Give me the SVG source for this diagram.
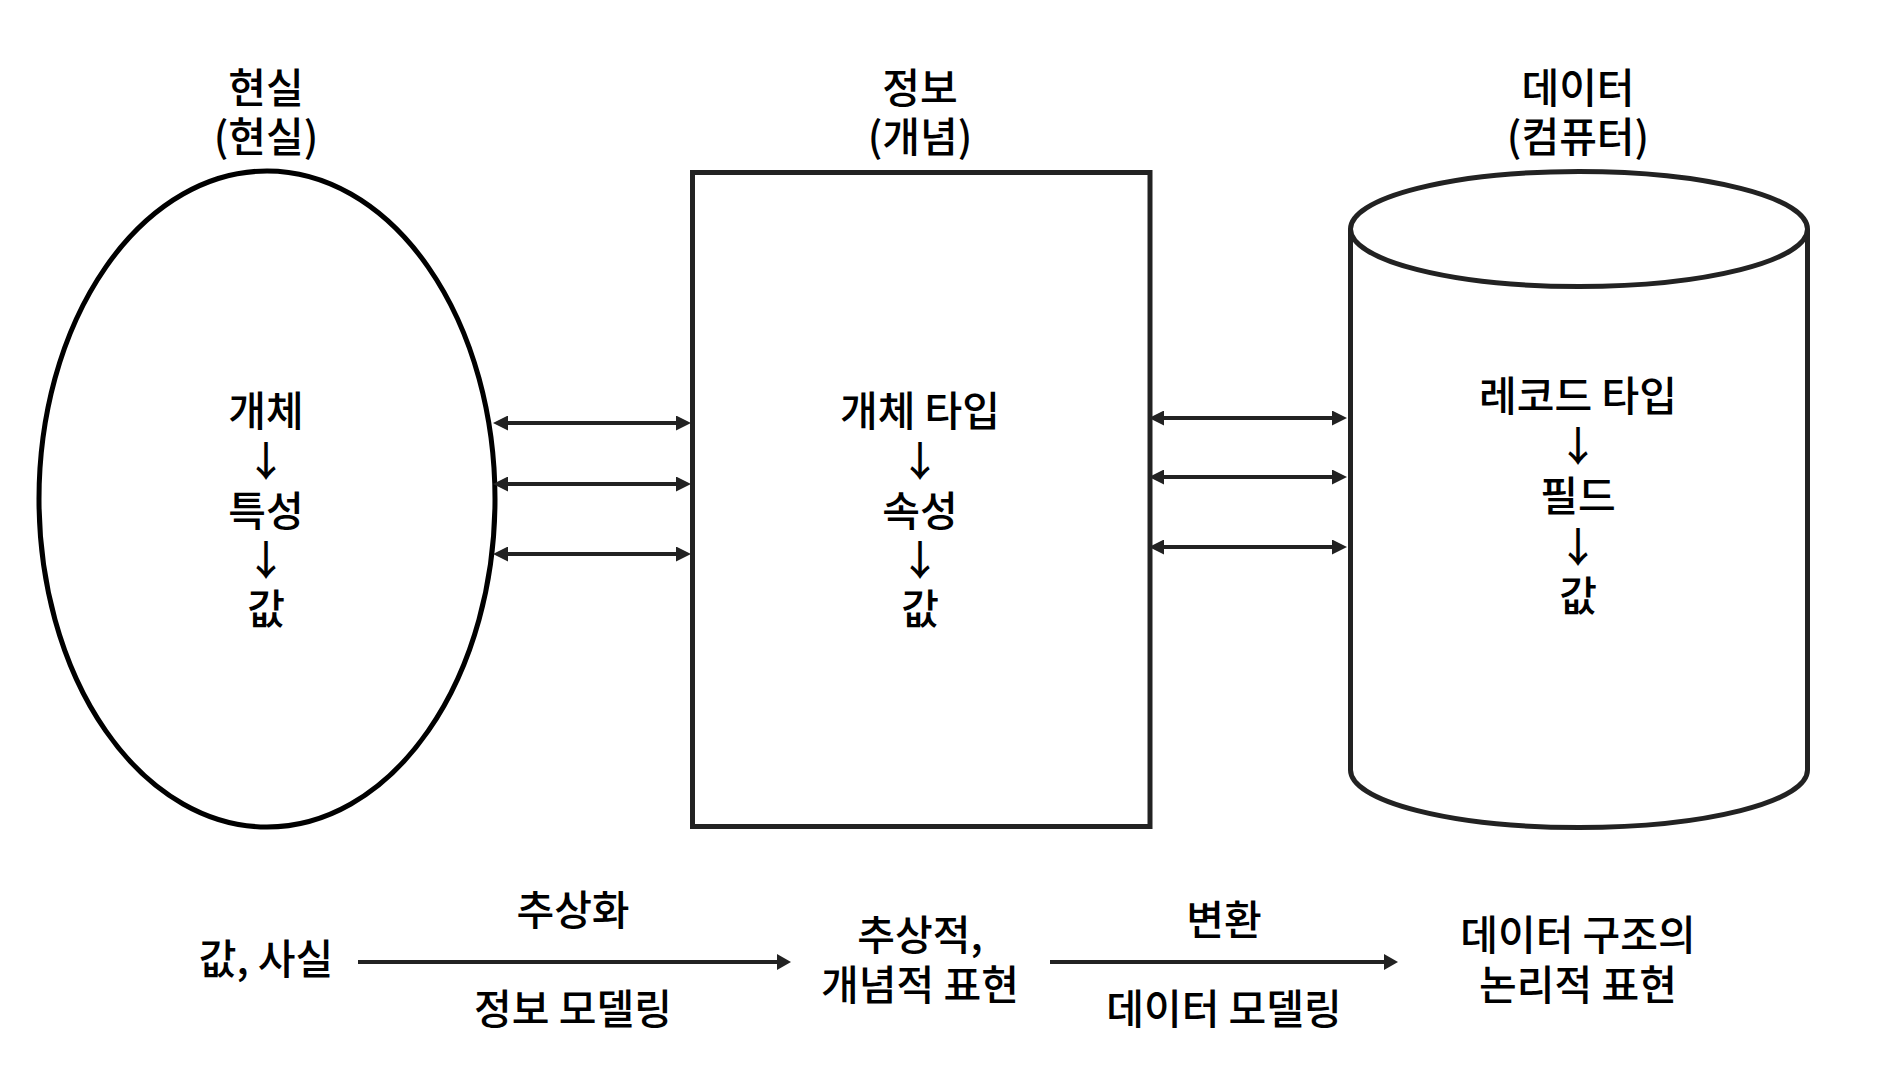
<svg xmlns="http://www.w3.org/2000/svg" width="1880" height="1084" viewBox="0 0 1880 1084">
<style>
text{font-family:"Noto Sans CJK KR","Noto Sans",sans-serif;font-size:41px;font-weight:500;fill:#000;text-anchor:middle;dominant-baseline:central}
.ell{fill:#fff;stroke:#000;stroke-width:5}
.shape{fill:#fff;stroke:#222;stroke-width:5}
.conn{stroke:#222;stroke-width:4;fill:none}
</style>
<defs>
<marker id="ah" markerUnits="userSpaceOnUse" markerWidth="15" markerHeight="15" refX="2" refY="7.5" orient="auto-start-reverse" viewBox="0 0 15 15">
<path d="M0,0 L15,7.5 L0,15 z" fill="#222"/>
</marker>
<marker id="ahb" markerUnits="userSpaceOnUse" markerWidth="14" markerHeight="16" refX="2" refY="8" orient="auto" viewBox="0 0 14 16">
<path d="M0,0 L14,8 L0,16 z" fill="#222"/>
</marker>
</defs>
<rect width="1880" height="1084" fill="#fff"/>

<g id="reality">
<ellipse class="ell" cx="267" cy="499" rx="228" ry="328"/>
<text x="266" y="85">현실</text>
<text x="266" y="134">(현실)</text>
<text x="266" y="408">개체</text>
<text x="266" y="458">↓</text>
<text x="266" y="508">특성</text>
<text x="266" y="557">↓</text>
<text x="266" y="606">값</text>
</g>

<g id="information">
<rect class="shape" x="692.5" y="172.5" width="457.5" height="654"/>
<text x="920" y="85">정보</text>
<text x="920" y="134">(개념)</text>
<text x="920" y="408">개체 타입</text>
<text x="920" y="458">↓</text>
<text x="920" y="508">속성</text>
<text x="920" y="557">↓</text>
<text x="920" y="606">값</text>
</g>

<g id="data">
<path class="shape" d="M1350.5,229 L1350.5,770 A228.5,57.5 0 0 0 1807.5,770 L1807.5,229"/>
<ellipse class="shape" cx="1579" cy="229" rx="228.5" ry="57.5"/>
<text x="1578" y="85">데이터</text>
<text x="1578" y="134">(컴퓨터)</text>
<text x="1578" y="393">레코드 타입</text>
<text x="1578" y="443">↓</text>
<text x="1578" y="493">필드</text>
<text x="1578" y="544">↓</text>
<text x="1578" y="593">값</text>
</g>

<g id="bottom-labels">
<text x="266" y="956">값, 사실</text>
<text x="573" y="907">추상화</text>
<text x="573" y="1006">정보 모델링</text>
<text x="920" y="932">추상적,</text>
<text x="920" y="982">개념적 표현</text>
<text x="1224" y="917">변환</text>
<text x="1224" y="1006">데이터 모델링</text>
<text x="1578" y="932">데이터 구조의</text>
<text x="1578" y="982">논리적 표현</text>
</g>

<g id="connectors">
<line class="conn" x1="506" y1="423" x2="678" y2="423" marker-start="url(#ah)" marker-end="url(#ah)"/>
<line class="conn" x1="506" y1="484" x2="678" y2="484" marker-start="url(#ah)" marker-end="url(#ah)"/>
<line class="conn" x1="506" y1="554" x2="678" y2="554" marker-start="url(#ah)" marker-end="url(#ah)"/>
<line class="conn" x1="1162" y1="418" x2="1334" y2="418" marker-start="url(#ah)" marker-end="url(#ah)"/>
<line class="conn" x1="1162" y1="477" x2="1334" y2="477" marker-start="url(#ah)" marker-end="url(#ah)"/>
<line class="conn" x1="1162" y1="547" x2="1334" y2="547" marker-start="url(#ah)" marker-end="url(#ah)"/>
<line class="conn" x1="358" y1="962" x2="779" y2="962" marker-end="url(#ahb)"/>
<line class="conn" x1="1050" y1="962" x2="1386" y2="962" marker-end="url(#ahb)"/>
</g>
</svg>
